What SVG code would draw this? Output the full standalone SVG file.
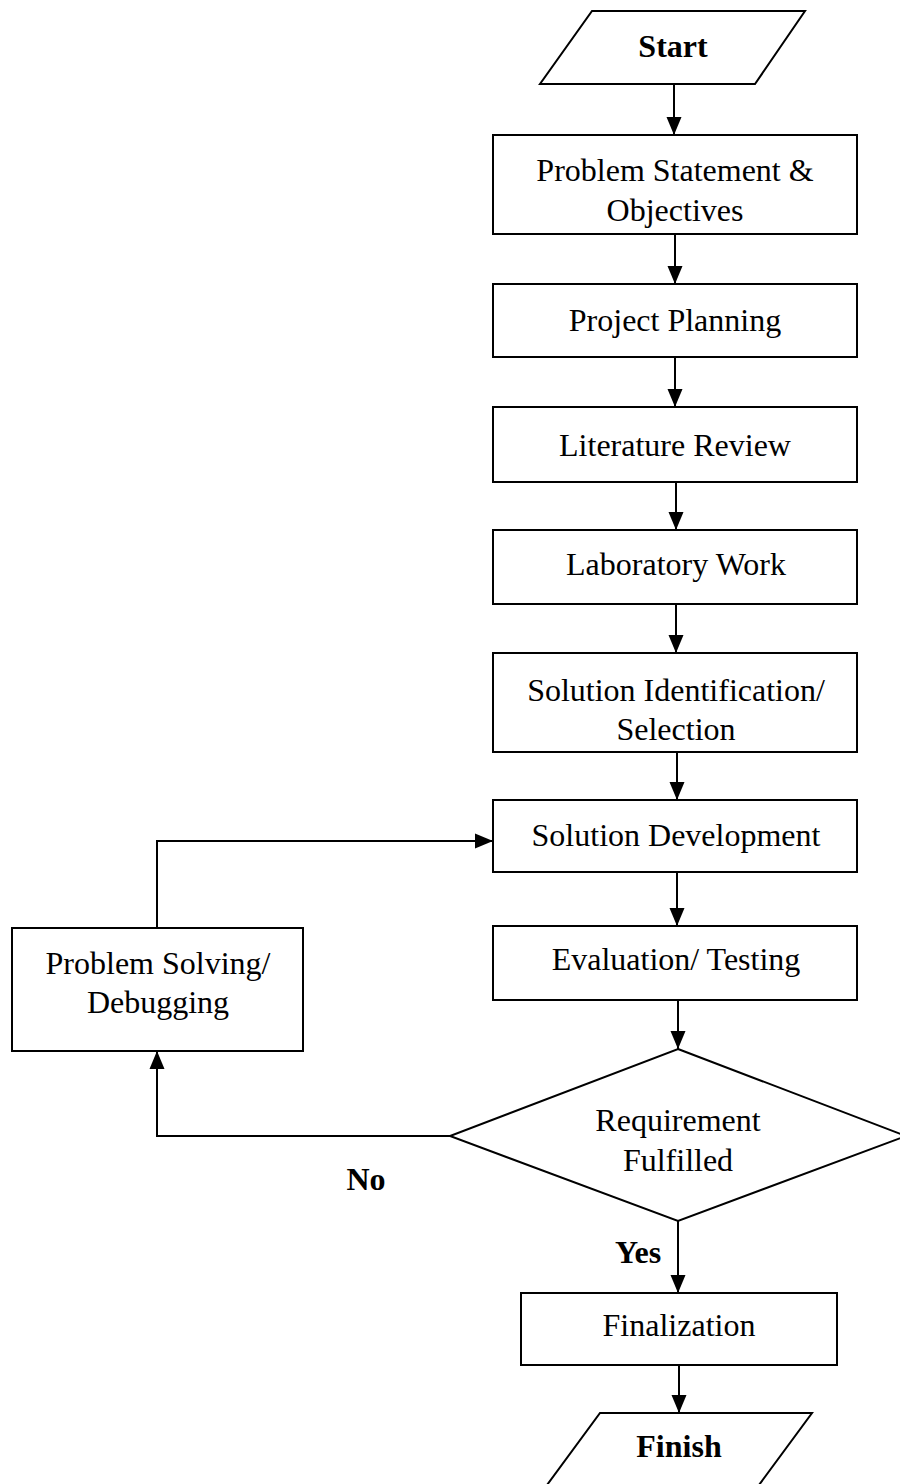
<svg xmlns="http://www.w3.org/2000/svg" width="900" height="1484" viewBox="0 0 900 1484">
  <style>
    .shape { fill: #ffffff; stroke: #000000; stroke-width: 2; }
    .link { fill: none; stroke: #000000; stroke-width: 2; }
    .lbl { font-family: "Liberation Serif", "Times New Roman", serif; font-size: 32px; fill: #000000; text-anchor: middle; }
    .bold { font-weight: bold; }
  </style>
  <defs>
    <marker id="arrow" markerUnits="userSpaceOnUse" markerWidth="19" markerHeight="16" refX="18" refY="8" orient="auto">
      <path d="M0,0.5 L18,8 L0,15.5 Z" fill="#000000"/>
    </marker>
  </defs>
  <rect width="900" height="1484" fill="#ffffff"/>

  <!-- connectors -->
  <g id="connectors">
    <line class="link" x1="674" y1="84" x2="674" y2="135" marker-end="url(#arrow)"/>
    <line class="link" x1="675" y1="234" x2="675" y2="284" marker-end="url(#arrow)"/>
    <line class="link" x1="675" y1="357" x2="675" y2="407" marker-end="url(#arrow)"/>
    <line class="link" x1="676" y1="482" x2="676" y2="530" marker-end="url(#arrow)"/>
    <line class="link" x1="676" y1="604" x2="676" y2="653" marker-end="url(#arrow)"/>
    <line class="link" x1="677" y1="752" x2="677" y2="800" marker-end="url(#arrow)"/>
    <line class="link" x1="677" y1="872" x2="677" y2="926" marker-end="url(#arrow)"/>
    <line class="link" x1="678" y1="1000" x2="678" y2="1049" marker-end="url(#arrow)"/>
    <line class="link" x1="678" y1="1221" x2="678" y2="1293" marker-end="url(#arrow)"/>
    <line class="link" x1="679" y1="1365" x2="679" y2="1413" marker-end="url(#arrow)"/>
    <!-- No branch: decision back to debugging -->
    <polyline class="link" points="450,1136 157,1136 157,1051" marker-end="url(#arrow)"/>
    <!-- debugging loops back into development -->
    <polyline class="link" points="157,928 157,841 493,841" marker-end="url(#arrow)"/>
  </g>

  <!-- nodes -->
  <g id="start">
    <polygon class="shape" points="592,11 805,11 755,84 540,84"/>
    <text class="lbl bold" x="673" y="57">Start</text>
  </g>
  <g id="problem-statement">
    <rect class="shape" x="493" y="135" width="364" height="99"/>
    <text class="lbl" x="675" y="181">Problem Statement &amp;</text>
    <text class="lbl" x="675" y="221">Objectives</text>
  </g>
  <g id="project-planning">
    <rect class="shape" x="493" y="284" width="364" height="73"/>
    <text class="lbl" x="675" y="331">Project Planning</text>
  </g>
  <g id="literature-review">
    <rect class="shape" x="493" y="407" width="364" height="75"/>
    <text class="lbl" x="675" y="456">Literature Review</text>
  </g>
  <g id="laboratory-work">
    <rect class="shape" x="493" y="530" width="364" height="74"/>
    <text class="lbl" x="676" y="575">Laboratory Work</text>
  </g>
  <g id="solution-identification">
    <rect class="shape" x="493" y="653" width="364" height="99"/>
    <text class="lbl" x="676" y="701">Solution Identification/</text>
    <text class="lbl" x="676" y="740">Selection</text>
  </g>
  <g id="solution-development">
    <rect class="shape" x="493" y="800" width="364" height="72"/>
    <text class="lbl" x="676" y="846">Solution Development</text>
  </g>
  <g id="evaluation-testing">
    <rect class="shape" x="493" y="926" width="364" height="74"/>
    <text class="lbl" x="676" y="970">Evaluation/ Testing</text>
  </g>
  <g id="problem-solving">
    <rect class="shape" x="12" y="928" width="291" height="123"/>
    <text class="lbl" x="158" y="974">Problem Solving/</text>
    <text class="lbl" x="158" y="1013">Debugging</text>
  </g>
  <g id="requirement-check">
    <polygon class="shape" points="678,1049 906,1136 678,1221 450,1136"/>
    <text class="lbl" x="678" y="1131">Requirement</text>
    <text class="lbl" x="678" y="1171">Fulfilled</text>
  </g>
  <g id="finalization">
    <rect class="shape" x="521" y="1293" width="316" height="72"/>
    <text class="lbl" x="679" y="1336">Finalization</text>
  </g>
  <g id="finish">
    <polygon class="shape" points="600,1413 812,1413 759,1485 547,1485"/>
    <text class="lbl bold" x="679" y="1457">Finish</text>
  </g>

  <!-- branch labels -->
  <g id="branch-labels">
    <text class="lbl bold" x="366" y="1190">No</text>
    <text class="lbl bold" x="638" y="1263">Yes</text>
  </g>
</svg>
